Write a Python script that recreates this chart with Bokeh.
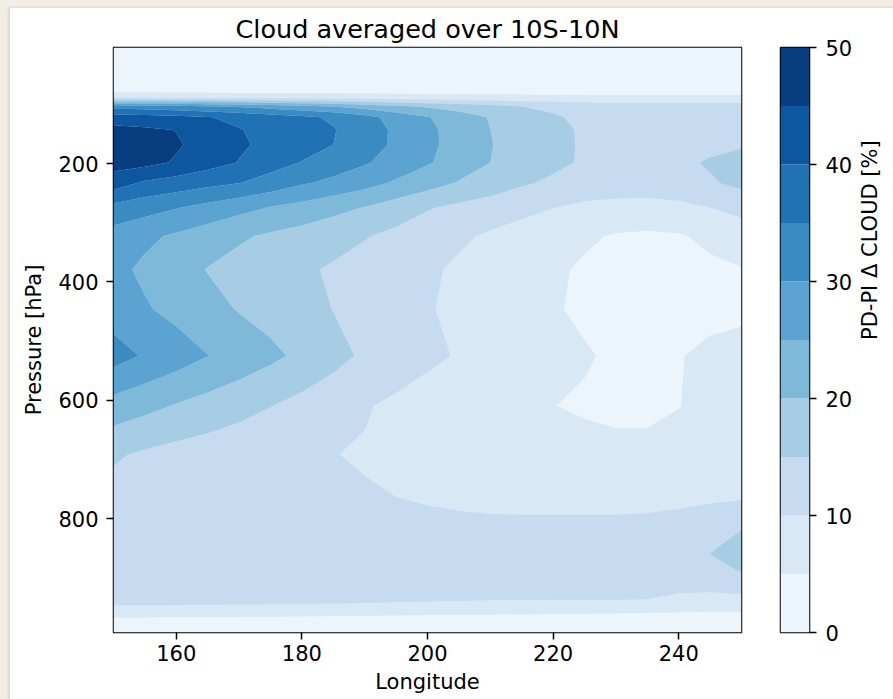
import math
import numpy as np
from bokeh.plotting import figure
from bokeh.models import Range1d, FixedTicker
from bokeh.core.properties import field
from bokeh.layouts import row, column
from bokeh.embed import file_html
from bokeh.resources import INLINE

FONT = "DejaVu Sans"
CREAM = "#f2eee4"

# ---------------- data ----------------
longitudes = [150, 155, 160, 165, 170, 175, 180, 185, 190, 195, 200,
              205, 210, 215, 220, 225, 230, 235, 240, 245, 250]
pressure_levels = [3.64, 24.61, 51.68, 73.75, 87.82, 103.32, 121.55, 142.99,
                   168.23, 197.91, 232.83, 273.91, 322.24, 379.10, 445.99,
                   524.69, 609.78, 691.39, 763.40, 820.86, 859.53, 887.02,
                   912.64, 936.20, 957.49, 976.33, 992.56]

cld_p0004 = [0.4, 0.4, 0.4, 0.4, 0.4, 0.4, 0.4, 0.4, 0.4, 0.4, 0.4, 0.4, 0.4, 0.4, 0.4, 0.4, 0.4, 0.4, 0.4, 0.4, 0.4]
cld_p0025 = [0.8, 0.8, 0.8, 0.8, 0.8, 0.8, 0.8, 0.8, 0.8, 0.8, 0.8, 0.8, 0.8, 0.8, 0.8, 0.8, 0.8, 0.8, 0.8, 0.8, 0.8]
cld_p0052 = [1.3, 1.3, 1.3, 1.3, 1.3, 1.3, 1.3, 1.3, 1.3, 1.3, 1.3, 1.3, 1.3, 1.3, 1.3, 1.3, 1.3, 1.3, 1.3, 1.3, 1.3]
cld_p0074 = [2.0, 2.0, 2.0, 2.0, 2.0, 2.0, 2.0, 2.0, 2.0, 2.0, 2.0, 2.0, 2.0, 2.0, 2.0, 2.0, 2.0, 2.0, 2.0, 2.0, 2.0]
cld_p0088 = [9.0, 9.0, 8.8, 8.6, 8.4, 8.2, 8.0, 7.8, 7.5, 7.2, 7.0, 6.8, 6.5, 6.3, 6.2, 6.0, 6.0, 6.0, 6.0, 6.0, 6.0]
cld_p0103 = [33.0, 32.5, 31.5, 30.5, 29.5, 28.0, 26.5, 25.0, 23.0, 21.0, 19.5, 18.0, 16.5, 15.0, 14.0, 13.0, 12.5, 12.5, 12.5, 12.5, 12.5]
cld_p0122 = [42.5, 42.0, 41.3, 40.2, 39.0, 37.5, 36.0, 34.3, 31.5, 28.3, 25.3, 22.3, 19.7, 17.6, 15.6, 13.9, 13.0, 12.8, 12.6, 12.6, 12.6]
cld_p0143 = [46.5, 45.8, 44.9, 42.8, 40.2, 38.8, 37.2, 35.3, 32.3, 29.2, 26.1, 23.0, 20.0, 18.1, 16.0, 14.5, 13.4, 13.0, 12.8, 12.8, 13.0]
cld_p0168 = [48.5, 47.2, 45.5, 43.3, 40.7, 38.8, 36.9, 35.0, 32.1, 29.2, 26.1, 23.1, 20.2, 18.2, 16.2, 14.5, 13.5, 13.0, 13.2, 13.8, 14.5]
cld_p0198 = [47.0, 46.5, 44.5, 42.0, 39.8, 37.0, 34.8, 32.5, 30.5, 28.0, 25.5, 22.8, 20.0, 18.0, 16.0, 14.5, 13.5, 13.0, 14.0, 15.5, 17.0]
cld_p0233 = [42.5, 39.2, 37.8, 36.3, 35.1, 33.0, 30.5, 28.8, 26.8, 24.3, 22.0, 19.6, 18.0, 15.6, 14.2, 13.3, 12.8, 12.6, 13.0, 14.5, 16.1]
cld_p0274 = [33.5, 32.0, 30.3, 28.5, 26.6, 24.8, 23.3, 21.5, 19.8, 17.6, 15.4, 13.9, 12.5, 11.3, 10.1, 8.9, 8.3, 8.3, 8.9, 10.0, 11.7]
cld_p0322 = [28.0, 26.0, 24.3, 22.5, 20.6, 19.3, 18.1, 16.8, 15.3, 13.8, 12.2, 10.7, 9.4, 8.1, 6.8, 5.7, 4.6, 4.2, 4.6, 5.9, 7.0]
cld_p0379 = [26.3, 24.1, 22.1, 19.8, 18.5, 17.2, 15.8, 14.4, 13.1, 11.9, 10.7, 9.3, 8.1, 6.9, 5.7, 4.4, 3.6, 3.3, 3.6, 4.2, 4.8]
cld_p0446 = [27.7, 25.5, 23.6, 21.6, 19.7, 18.2, 16.6, 14.9, 13.4, 11.9, 10.3, 9.1, 7.9, 6.7, 5.4, 4.2, 3.3, 3.0, 3.1, 3.4, 3.8]
cld_p0525 = [32.0, 29.5, 27.4, 25.1, 23.1, 21.1, 18.9, 16.6, 14.2, 12.8, 11.1, 9.6, 8.6, 7.6, 6.6, 5.4, 4.3, 4.0, 4.7, 6.2, 7.0]
cld_p0610 = [23.0, 21.4, 19.6, 18.1, 16.6, 15.1, 13.5, 11.9, 10.4, 9.0, 7.7, 6.6, 5.8, 5.3, 5.05, 4.5, 3.9, 3.8, 4.9, 6.2, 7.0]
cld_p0691 = [15.6, 14.3, 13.3, 12.6, 11.9, 11.2, 10.7, 10.1, 9.6, 9.0, 8.4, 7.8, 7.2, 6.8, 6.6, 6.4, 6.3, 6.4, 6.6, 7.1, 7.6]
cld_p0763 = [13.4, 13.0, 12.7, 12.4, 12.0, 11.6, 11.2, 10.8, 10.4, 10.0, 9.6, 9.3, 9.1, 9.0, 8.9, 8.8, 8.8, 8.8, 9.0, 9.2, 9.5]
cld_p0821 = [12.8, 12.6, 12.5, 12.4, 12.3, 12.1, 11.9, 11.6, 11.4, 11.3, 11.2, 11.0, 10.9, 10.9, 11.0, 11.1, 11.1, 11.3, 11.8, 13.3, 15.1]
cld_p0860 = [12.6, 12.5, 12.4, 12.3, 12.2, 12.1, 12.0, 11.9, 11.8, 11.8, 11.8, 11.8, 11.8, 11.9, 12.0, 12.1, 12.2, 12.4, 12.9, 15.05, 16.6]
cld_p0887 = [12.5, 12.4, 12.3, 12.2, 12.1, 12.0, 12.0, 11.9, 11.9, 11.9, 11.9, 11.9, 11.9, 11.9, 12.0, 12.0, 12.1, 12.2, 12.5, 13.6, 15.3]
cld_p0913 = [12.4, 12.3, 12.2, 12.2, 12.1, 12.0, 12.0, 11.9, 11.8, 11.8, 11.8, 11.7, 11.7, 11.7, 11.7, 11.7, 11.8, 11.8, 11.9, 12.0, 12.8]
cld_p0936 = [12.3, 12.3, 12.2, 12.2, 12.1, 12.0, 12.0, 11.7, 11.4, 11.1, 10.8, 10.6, 10.4, 10.3, 10.2, 10.2, 10.2, 10.0, 8.6, 8.1, 8.4]
cld_p0957 = [7.5, 7.5, 7.4, 7.3, 7.2, 7.1, 7.0, 6.9, 6.8, 6.6, 6.5, 6.3, 6.2, 6.1, 6.0, 5.8, 5.6, 5.4, 5.2, 5.0, 4.9]
cld_p0976 = [2.5, 2.5, 2.4, 2.3, 2.2, 2.1, 2.0, 1.8, 1.6, 1.4, 1.3, 1.2, 1.1, 1.1, 1.0, 1.0, 1.0, 1.0, 1.0, 1.0, 1.0]
cld_p0993 = [0.5, 0.5, 0.5, 0.5, 0.5, 0.5, 0.5, 0.5, 0.5, 0.5, 0.5, 0.5, 0.5, 0.5, 0.5, 0.5, 0.5, 0.5, 0.5, 0.5, 0.5]

contour_levels = [0, 5, 10, 15, 20, 25, 30, 35, 40, 45, 50]
band_colors = ["#edf5fc", "#d9e8f5", "#c6dbef", "#a6cde4", "#7fb9da",
               "#5ba3d0", "#3b8bc3", "#2171b5", "#0d57a1", "#083d7f"]
x_ticks = [160, 180, 200, 220, 240]
y_ticks = [200, 400, 600, 800]
cbar_ticks = [0, 10, 20, 30, 40, 50]

title_text = "Cloud averaged over 10S-10N"
x_label = "Longitude"
y_label = "Pressure [hPa]"
cbar_label = "PD-PI \u0394 CLOUD [%]"

rows = [cld_p0004, cld_p0025, cld_p0052, cld_p0074, cld_p0088, cld_p0103,
        cld_p0122, cld_p0143, cld_p0168, cld_p0198, cld_p0233, cld_p0274,
        cld_p0322, cld_p0379, cld_p0446, cld_p0525, cld_p0610, cld_p0691,
        cld_p0763, cld_p0821, cld_p0860, cld_p0887, cld_p0913, cld_p0936,
        cld_p0957, cld_p0976, cld_p0993]
z = np.array(rows, dtype=float)
xs = np.array(longitudes, dtype=float)
ys = np.array(pressure_levels, dtype=float)

TOP, BOTTOM = 38, 68

# ---------------- main panel ----------------
p = figure(frame_width=628, frame_height=585,
           x_range=Range1d(longitudes[0], longitudes[-1]),
           y_range=Range1d(pressure_levels[-1], pressure_levels[0]),
           min_border_left=103, min_border_right=19,
           min_border_top=TOP, min_border_bottom=BOTTOM,
           output_backend="svg", toolbar_location=None,
           title=title_text)
p.background_fill_color = "#d9e8f5"
p.border_fill_color = "white"
p.outline_line_color = "black"
p.outline_line_width = 1.5
p.xgrid.visible = False
p.ygrid.visible = False

p.title.text_font = FONT
p.title.text_font_size = "25.5px"
p.title.text_font_style = "normal"
p.title.align = "center"
p.title.text_color = "black"
p.title.standoff = 7

cr = p.contour(xs, ys, z, contour_levels, fill_color=band_colors, line_color=None)
try:
    src = cr.fill_renderer.data_source
    if "fill_color" in src.column_names:
        g = cr.fill_renderer.glyph
        g.line_color = field("fill_color")
        g.line_width = 0.6
except Exception:
    pass

p.xaxis.ticker = FixedTicker(ticks=x_ticks)
p.yaxis.ticker = FixedTicker(ticks=y_ticks)
p.xaxis.axis_label = x_label
p.yaxis.axis_label = y_label
for ax in (p.xaxis[0], p.yaxis[0]):
    ax.axis_line_color = None
    ax.major_tick_out = 7
    ax.major_tick_in = 0
    ax.minor_tick_out = 0
    ax.minor_tick_in = 0
    ax.major_tick_line_width = 1.5
    ax.major_tick_line_color = "black"
    ax.major_label_text_font = FONT
    ax.major_label_text_font_size = "21px"
    ax.major_label_text_color = "black"
    ax.axis_label_text_font = FONT
    ax.axis_label_text_font_size = "21px"
    ax.axis_label_text_font_style = "normal"
    ax.axis_label_text_color = "black"
p.xaxis.major_label_standoff = 5
p.xaxis.axis_label_standoff = 6
p.yaxis.major_label_standoff = 8
p.yaxis.axis_label_standoff = 9

# ---------------- colour bar ----------------
cfig = figure(frame_width=29, frame_height=585,
              x_range=Range1d(0, 1), y_range=Range1d(contour_levels[0], contour_levels[-1]),
              y_axis_location="right",
              min_border_left=20, min_border_right=84,
              min_border_top=TOP, min_border_bottom=BOTTOM,
              output_backend="svg", toolbar_location=None)
cfig.quad(left=0, right=1, bottom=contour_levels[:-1], top=contour_levels[1:],
          fill_color=band_colors, line_color=None)
cfig.border_fill_color = "white"
cfig.outline_line_color = "black"
cfig.outline_line_width = 1.5
cfig.xgrid.visible = False
cfig.ygrid.visible = False
cfig.xaxis.visible = False
cax = cfig.yaxis[0]
cax.ticker = FixedTicker(ticks=cbar_ticks)
cax.axis_line_color = None
cax.major_tick_out = 7
cax.major_tick_in = 0
cax.minor_tick_out = 0
cax.minor_tick_in = 0
cax.major_tick_line_width = 1.5
cax.major_label_text_font = FONT
cax.major_label_text_font_size = "21px"
cax.major_label_text_color = "black"
cax.major_label_standoff = 9
cax.axis_label = cbar_label
cax.axis_label_text_font = FONT
cax.axis_label_text_font_size = "21px"
cax.axis_label_text_font_style = "normal"
cax.axis_label_text_color = "black"
cax.axis_label_standoff = 15
try:
    cax.axis_label_orientation = math.pi / 2
except Exception:
    pass

inner = row(p, cfig, spacing=0, margin=(8, 0, 0, 10),
            styles={"background-color": "white",
                    "box-shadow": "-1px 0px 3px rgba(0,0,0,0.18)"})
outer = column(inner, width=893, height=699,
               styles={"background-color": CREAM})

open("out.html", "w").write(file_html(outer, INLINE))
